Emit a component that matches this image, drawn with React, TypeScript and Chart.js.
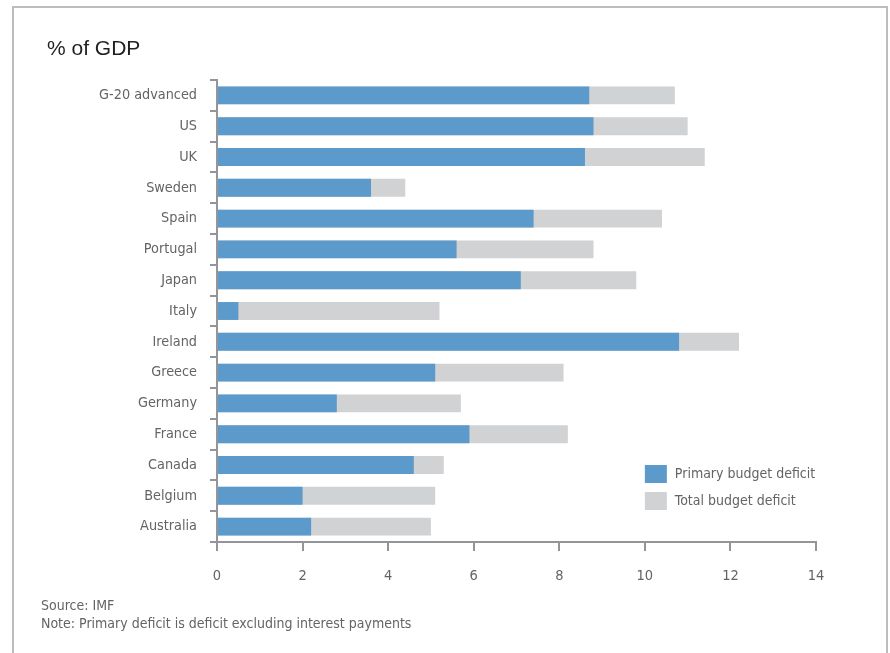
import React, { useEffect, useRef } from "react";
import { Chart, registerables } from "chart.js";

Chart.register(...registerables);

const categories = [
  "G-20 advanced",
  "US",
  "UK",
  "Sweden",
  "Spain",
  "Portugal",
  "Japan",
  "Italy",
  "Ireland",
  "Greece",
  "Germany",
  "France",
  "Canada",
  "Belgium",
  "Australia",
];
const primaryDeficit = [8.7, 8.8, 8.6, 3.6, 7.4, 5.6, 7.1, 0.5, 10.8, 5.1, 2.8, 5.9, 4.6, 2.0, 2.2];
const totalDeficit = [10.7, 11.0, 11.4, 4.4, 10.4, 8.8, 9.8, 5.2, 12.2, 8.1, 5.7, 8.2, 5.3, 5.1, 5.0];
const xMin = 0;
const xMax = 14;
const xStep = 2;

const BLUE = "#5b9aca";
const GREY = "#d1d2d4";
const AXIS = "#939598";
const TEXT = "#636467";
const FONT = "'DejaVu Sans Condensed', 'DejaVu Sans', sans-serif";

const legendPlugin = {
  id: "insideLegend",
  afterDraw(chart: any) {
    const ctx = chart.ctx;
    const xs = chart.scales.x;
    const area = chart.chartArea;
    const x0 = xs.getPixelForValue(10);
    const metas = chart._getSortedDatasetMetas();
    ctx.save();
    ctx.font = "14px " + FONT;
    ctx.textBaseline = "middle";
    ctx.textAlign = "left";
    metas.forEach((meta: any, i: number) => {
      const ds = chart.data.datasets[meta.index];
      const y = area.bottom - 77 + i * 27;
      ctx.fillStyle = ds.backgroundColor;
      ctx.fillRect(x0, y, 22, 18);
      ctx.fillStyle = TEXT;
      ctx.fillText(ds.label, x0 + 30, y + 9.5);
    });
    ctx.restore();
  },
};

export default function App() {
  const ref = useRef<HTMLCanvasElement | null>(null);

  useEffect(() => {
    if (!ref.current) return;
    const chart = new Chart(ref.current, {
      type: "bar",
      data: {
        labels: categories,
        datasets: [
          {
            label: "Primary budget deficit",
            data: primaryDeficit,
            backgroundColor: BLUE,
            order: 0,
            grouped: false,
            barPercentage: 0.58,
            categoryPercentage: 1,
          },
          {
            label: "Total budget deficit",
            data: totalDeficit,
            backgroundColor: GREY,
            order: 1,
            grouped: false,
            barPercentage: 0.58,
            categoryPercentage: 1,
          },
        ],
      },
      options: {
        indexAxis: "y",
        animation: false,
        responsive: false,
        devicePixelRatio: 1,
        layout: { padding: { top: 80, right: 74, bottom: 71, left: 0 } },
        plugins: {
          legend: { display: false },
          tooltip: { enabled: false },
          title: { display: false },
        },
        scales: {
          x: {
            type: "linear",
            min: xMin,
            max: xMax,
            afterFit(scale: any) {
              scale.height = 40;
            },
            ticks: {
              stepSize: xStep,
              color: TEXT,
              padding: 17,
              font: { family: FONT, size: 14.5 },
            },
            grid: {
              drawOnChartArea: false,
              drawTicks: true,
              tickLength: 9,
              color: AXIS,
              lineWidth: 2,
            },
            border: { display: true, color: AXIS, width: 2 },
          },
          y: {
            type: "category",
            afterFit(scale: any) {
              scale.width = 217;
            },
            ticks: {
              color: TEXT,
              padding: 13,
              font: { family: FONT, size: 14.3 },
            },
            grid: {
              offset: true,
              drawOnChartArea: false,
              drawTicks: true,
              tickLength: 7,
              color: AXIS,
              lineWidth: 2,
            },
            border: { display: true, color: AXIS, width: 2 },
          },
        },
      },
      plugins: [legendPlugin],
    } as any);
    return () => chart.destroy();
  }, []);

  return (
    <div
      style={{
        position: "fixed",
        left: 0,
        top: 0,
        width: 890,
        height: 653,
        background: "#ffffff",
        overflow: "hidden",
      }}
    >
      <div
        style={{
          position: "absolute",
          left: 12,
          top: 6,
          width: 876,
          height: 700,
          boxSizing: "border-box",
          border: "2px solid #bdbdbd",
          borderBottom: "none",
        }}
      />
      <canvas
        ref={ref}
        width={890}
        height={653}
        style={{ position: "absolute", left: 0, top: 0, width: 890, height: 653 }}
      />
      <div
        style={{
          position: "absolute",
          left: 47,
          top: 37,
          font: "21px 'Liberation Sans', Arial, sans-serif",
          lineHeight: "21px",
          color: "#231f20",
          whiteSpace: "nowrap",
        }}
      >
        % of GDP
      </div>
      <div
        style={{
          position: "absolute",
          left: 41,
          top: 596,
          fontFamily: FONT,
          fontSize: 14,
          lineHeight: "18px",
          color: TEXT,
          whiteSpace: "nowrap",
        }}
      >
        <div>Source: IMF</div>
        <div>Note: Primary deficit is deficit excluding interest payments</div>
      </div>
    </div>
  );
}
